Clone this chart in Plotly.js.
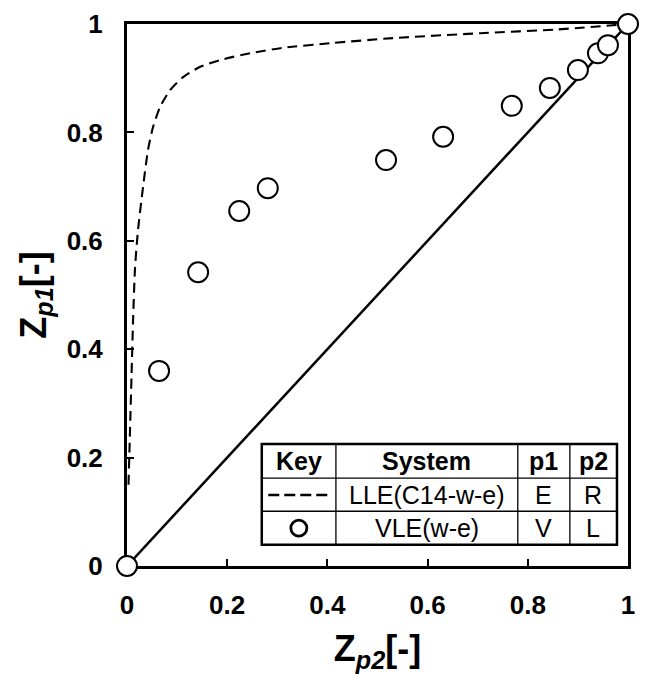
<!DOCTYPE html>
<html>
<head>
<meta charset="utf-8">
<script src="https://cdn.plot.ly/plotly-3.0.1.min.js"></script>
<style>html,body{margin:0;padding:0;background:#fff;}#chart{width:646px;height:674px;}</style>
</head>
<body>
<div id="chart"></div>
<script>
// VLE(w-e) experimental points
const vleX = [0, 0.064, 0.142, 0.224, 0.281, 0.517, 0.631, 0.768, 0.844, 0.900, 0.940, 0.960, 1];
const vleY = [0, 0.360, 0.542, 0.655, 0.697, 0.749, 0.792, 0.849, 0.882, 0.915, 0.946, 0.961, 1];
// LLE(C14-w-e) curve
const lleX = [0.003, 0.006, 0.009, 0.012, 0.016, 0.022, 0.032, 0.042, 0.052, 0.066, 0.086, 0.112, 0.146, 0.192, 0.246, 0.311, 0.411, 0.531, 0.705, 0.86, 1];
const lleY = [0.15, 0.25, 0.35, 0.45, 0.55, 0.620, 0.699, 0.768, 0.810, 0.847, 0.878, 0.902, 0.921, 0.935, 0.946, 0.956, 0.965, 0.974, 0.983, 0.990, 1];
// diagonal
const diagX = [0, 1];
const diagY = [0, 1];
// ticks
const tickVals = [0, 0.2, 0.4, 0.6, 0.8, 1];
const tickText = ['0', '0.2', '0.4', '0.6', '0.8', '1'];
// key table
const tableHeader = ['Key', 'System', 'p1', 'p2'];
const tableRow1 = ['LLE(C14-w-e)', 'E', 'R'];
const tableRow2 = ['VLE(w-e)', 'V', 'L'];

const FONT = 'Arial, "Liberation Sans", sans-serif';

const traces = [
  {x: diagX, y: diagY, mode: 'lines', line: {color: '#000', width: 2.5}, showlegend: false, hoverinfo: 'skip'},
  {x: lleX, y: lleY, mode: 'lines', line: {color: '#000', width: 2.1, dash: '10px,6px', shape: 'spline', smoothing: 0.6}, showlegend: false},
  {x: vleX, y: vleY, mode: 'markers', cliponaxis: false,
   marker: {symbol: 'circle', size: 20, color: '#fff', line: {color: '#000', width: 2}}, showlegend: false}
];

// table geometry (data coords)
const colX = [0.269, 0.417, 0.780, 0.884, 0.978];
const rowY = [0.225, 0.162, 0.101, 0.039];
const shapes = [];
shapes.push({type: 'rect', xref: 'x', yref: 'y', x0: colX[0], x1: colX[4], y0: rowY[3], y1: rowY[0],
  fillcolor: '#fff', line: {color: '#000', width: 2.5}, layer: 'above'});
for (let i = 1; i < 4; i++) {
  shapes.push({type: 'line', xref: 'x', yref: 'y', x0: colX[i], x1: colX[i], y0: rowY[3], y1: rowY[0], line: {color: '#000', width: 1.3}, layer: 'above'});
}
for (let j = 1; j < 3; j++) {
  shapes.push({type: 'line', xref: 'x', yref: 'y', x0: colX[0], x1: colX[4], y0: rowY[j], y1: rowY[j], line: {color: '#000', width: 1.3}, layer: 'above'});
}
const cx = [0.343, 0.598, 0.832, 0.931];
const cy = [0.193, 0.131, 0.070];
// key samples
shapes.push({type: 'line', xref: 'x', yref: 'y', x0: 0.282, x1: 0.405, y0: cy[1], y1: cy[1], line: {color: '#000', width: 2.6, dash: '11px,5px'}, layer: 'above'});
shapes.push({type: 'circle', xref: 'x', yref: 'y', x0: cx[0] - 0.016, x1: cx[0] + 0.016, y0: cy[2] - 0.0148, y1: cy[2] + 0.0148, line: {color: '#000', width: 2.8}, fillcolor: 'rgba(0,0,0,0)', layer: 'above'});

const annotations = [];
tableHeader.forEach((t, i) => annotations.push({x: cx[i], y: cy[0], xref: 'x', yref: 'y', text: '<b>' + t + '</b>', showarrow: false, font: {family: FONT, size: 25, color: '#000'}}));
tableRow1.forEach((t, i) => annotations.push({x: cx[i + 1], y: cy[1], xref: 'x', yref: 'y', text: t, showarrow: false, font: {family: FONT, size: 25, color: '#000'}}));
tableRow2.forEach((t, i) => annotations.push({x: cx[i + 1], y: cy[2], xref: 'x', yref: 'y', text: t, showarrow: false, font: {family: FONT, size: 25, color: '#000'}}));

const axisCommon = {
  range: [0, 1], tickvals: tickVals, ticktext: tickText, ticks: 'inside', ticklen: 7, tickwidth: 2, tickcolor: '#000',
  showline: true, linecolor: '#000', linewidth: 3, mirror: true, showgrid: false, zeroline: false,
  layer: 'below traces',
  tickfont: {family: FONT, size: 26, color: '#000', weight: 'bold'}
};

const layout = {
  width: 646, height: 674, autosize: false,
  margin: {l: 127, r: 18, t: 24, b: 108},
  paper_bgcolor: '#fff', plot_bgcolor: '#fff',
  font: {family: FONT, color: '#000'},
  xaxis: Object.assign({}, axisCommon, {
    ticklabelstandoff: 14,
    title: {text: '<b>Z<sub><i>p2</i></sub>[-]</b>', font: {family: FONT, size: 36, color: '#000'}, standoff: 20}
  }),
  yaxis: Object.assign({}, axisCommon, {
    ticklabelstandoff: 16,
    title: {text: '<b>Z<sub><i>p1</i></sub>[-]</b>', font: {family: FONT, size: 36, color: '#000'}, standoff: 10}
  }),
  shapes: shapes,
  annotations: annotations,
  showlegend: false
};

Plotly.newPlot('chart', traces, layout, {displayModeBar: false, staticPlot: true});
</script>
</body>
</html>
